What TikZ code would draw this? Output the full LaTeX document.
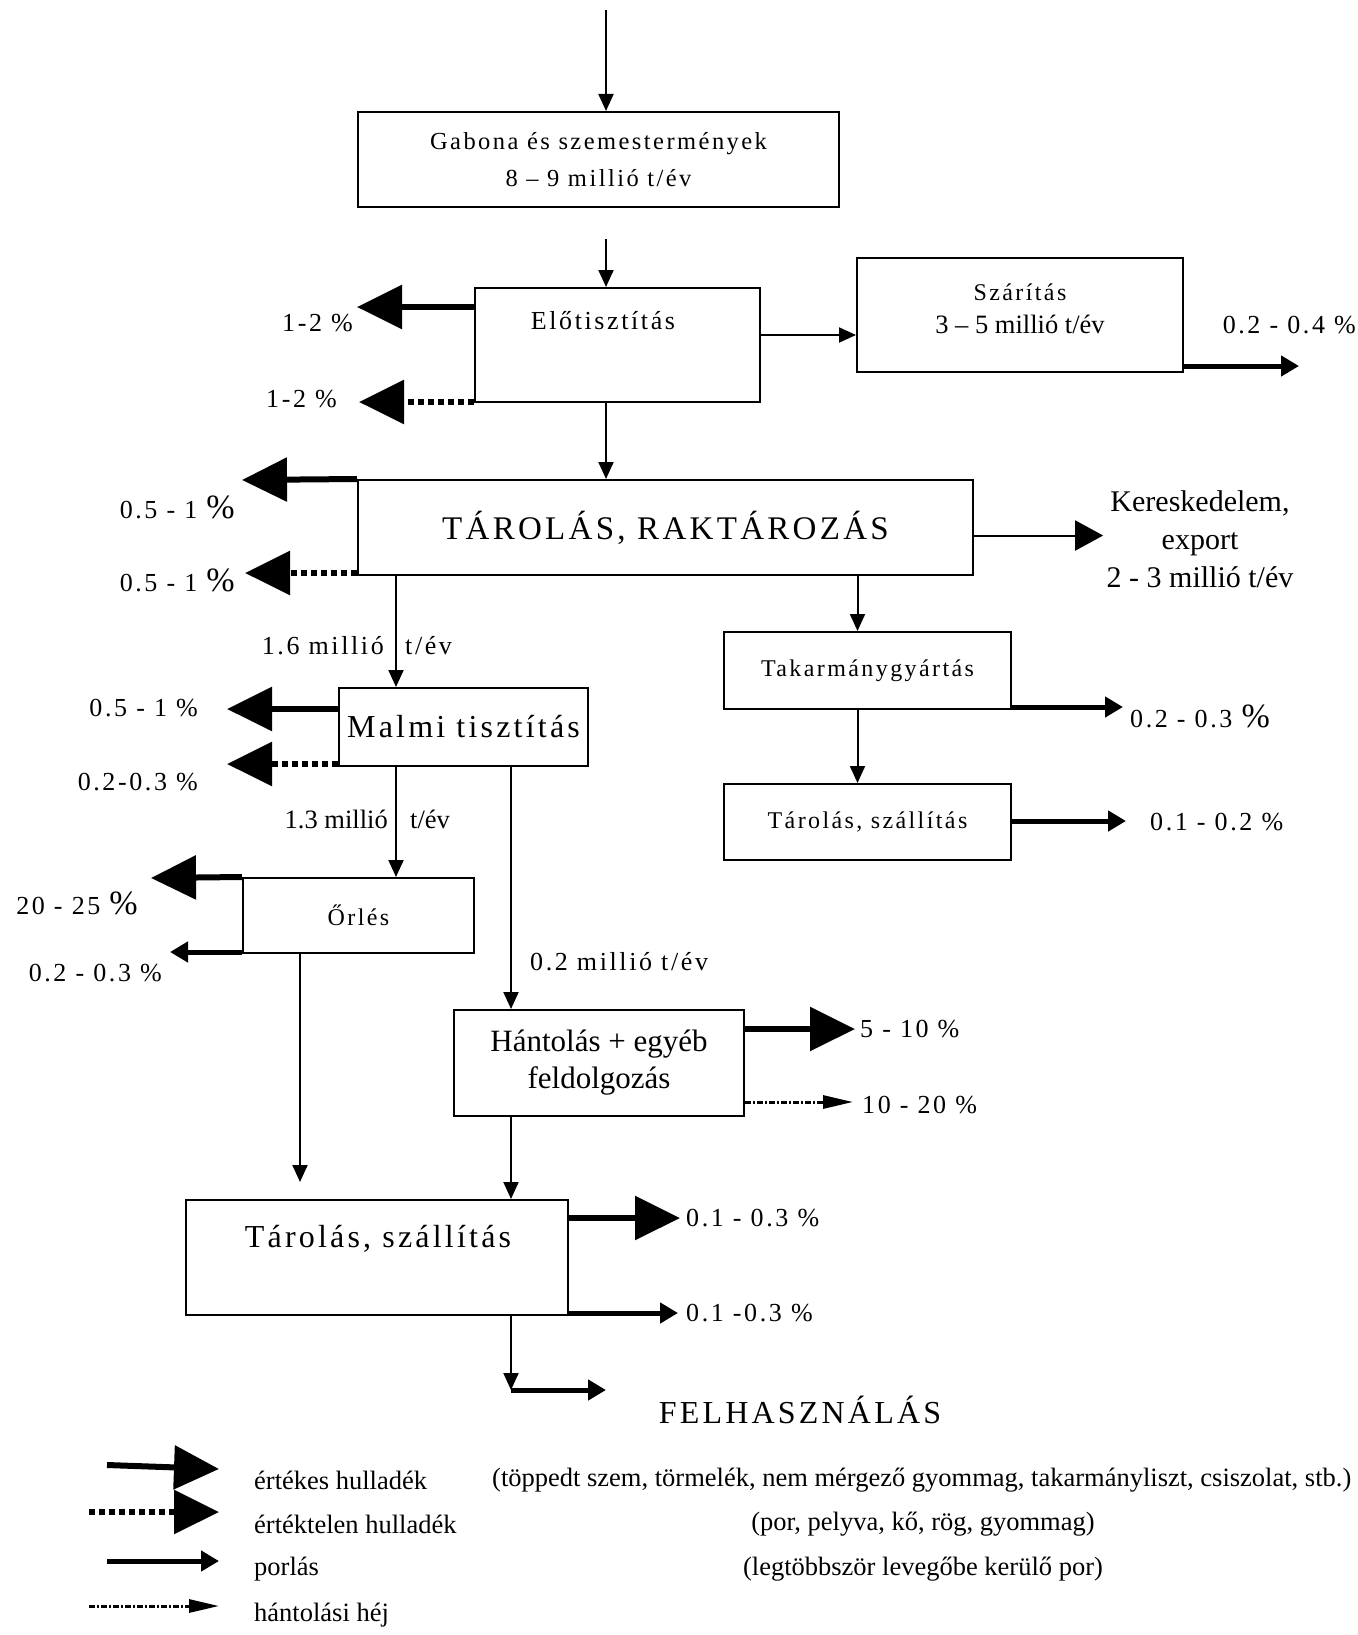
\documentclass[tikz,border=0pt]{standalone}
\usepackage{fontspec}
\setmainfont{Liberation Serif}
\newfontfamily\spc[LetterSpace=10]{Liberation Serif}
\usetikzlibrary{arrows.meta}
\newcommand\bpct{{\fontsize{34}{34}\selectfont\%}}
\tikzset{
  >=latex,
  box/.style={draw, line width=2pt, inner sep=0pt},
  flow/.style={-{Triangle[length=17pt,width=15pt]}, line width=2pt},
  trade/.style={-{Triangle[length=28pt,width=30pt]}, line width=2pt},
  valuable/.style={-{Triangle[length=45pt,width=43pt]}, line width=6pt},
  worthless/.style={valuable, dash pattern=on 6pt off 4pt},
  dust/.style={-{Triangle[length=18pt,width=20pt]}, line width=5pt},
  hull/.style={-{Triangle[length=30pt,width=13pt]}, line width=3pt, dash pattern=on 6pt off 2pt on 2pt off 2pt},
  boxtxt/.style={font=\spc\fontsize{24}{28}\selectfont, inner sep=0pt},
  pct/.style={font=\spc\fontsize{26}{30}\selectfont, inner sep=0pt},
  txt/.style={font=\fontsize{26.5}{30}\selectfont, inner sep=0pt},
  bigtxt/.style={font=\spc\fontsize{32}{38}\selectfont, inner sep=0pt}
}
\begin{document}
\begin{tikzpicture}[x=1pt,y=-1pt]
\useasboundingbox (0,0) rectangle (1357,1635);

% input and cleaning
\node[box, minimum width=481pt, minimum height=95pt, align=center, font=\spc\fontsize{24.5}{37}\selectfont] (gab) at (598.5,159.5) {Gabona és szemestermények\\8 – 9 millió t/év};
\coordinate (in) at (606,10);
\draw[flow] (in) -- (in |- gab.north);

\node[box, minimum width=285pt, minimum height=114pt] (elo) at (617.5,345) {};
\node[font=\spc\fontsize{26}{30}\selectfont, inner sep=0pt] (eloT) at (603,321) {Előtisztítás};
\draw[flow] ([yshift=-31pt]in |- gab.south) -- (in |- elo.north);

\coordinate (e1) at (357,307);
\coordinate (e2) at (359,402);
\draw[valuable] (elo.west |- e1) -- (e1);
\draw[worthless] (elo.west |- e2) -- (e2);
\node[pct, anchor=east] (e1l) at (353,323) {1-2 \%};
\node[pct, anchor=east] (e2l) at (337,399) {1-2 \%};

% drying
\node[box, minimum width=326pt, minimum height=114pt] (sza) at (1020,315) {};
\node[boxtxt] (szaT) at (1020,292) {Szárítás};
\node[txt] (szaM) at (1020,324) {3 – 5 millió t/év};
\draw[flow] ([yshift=-20pt]sza.west -| elo.east) -- ([yshift=-20pt]sza.west);
\coordinate (s1) at (1299,366);
\draw[dust] (sza.east |- s1) -- (s1);
\node[pct, anchor=east] (s1l) at (1356,325) {0.2 - 0.4 \%};

% storage
\node[box, minimum width=615pt, minimum height=95pt, font=\spc\fontsize{33}{38}\selectfont, inner sep=0pt] (tar) at (665.5,527.5) {TÁROLÁS, RAKTÁROZÁS};
\draw[flow] (in |- elo.south) -- (in |- tar.north);
\coordinate (t1) at (242,480);
\coordinate (t2) at (245,573);
\draw[valuable] (tar.north west) -- (t1);
\draw[worthless] (tar.west |- t2) -- (t2);
\node[pct, anchor=east] (t1l) at (235,507) {0.5 - 1 \bpct};
\node[pct, anchor=east] (t2l) at (235,580) {0.5 - 1 \bpct};

\node[align=center, font=\fontsize{30}{38}\selectfont] (ker) at (1200,539) {Kereskedelem,\\export\\2 - 3 millió t/év};
\draw[trade] ([yshift=-8pt]tar.east) -- ([yshift=-8pt]tar.east -| ker.west);

% feed line
\node[box, minimum width=287pt, minimum height=77pt, boxtxt] (tak) at (867.5,670.5) {Takarmánygyártás};
\draw[flow] ([xshift=-10pt]tak.north |- tar.south) -- ([xshift=-10pt]tak.north);
\coordinate (k1) at (1123,707);
\draw[dust] (tak.east |- k1) -- (k1);
\node[pct, anchor=west] (k1l) at (1130,716) {0.2 - 0.3 \bpct};

\node[box, minimum width=287pt, minimum height=76pt, boxtxt] (tsz) at (867.5,822) {Tárolás, szállítás};
\draw[flow] ([xshift=-10pt]tak.south) -- ([xshift=-10pt]tsz.north);
\coordinate (k2) at (1126,821);
\draw[dust] (tsz.east |- k2) -- (k2);
\node[pct, anchor=west] (k2l) at (1150,822) {0.1 - 0.2 \%};

% mill line
\node[box, minimum width=249pt, minimum height=78pt, bigtxt] (mal) at (463.5,727) {Malmi tisztítás};
\draw[flow] ([xshift=-67.5pt]mal.north |- tar.south) -- ([xshift=-67.5pt]mal.north);
\node[pct, anchor=east] (m16) at (384,646) {1.6 millió};
\node[pct, anchor=west] (t16) at (405,646) {t/év};
\coordinate (m1) at (227,709);
\coordinate (m2) at (227,764);
\draw[valuable] (mal.west |- m1) -- (m1);
\draw[worthless] (mal.west |- m2) -- (m2);
\node[pct, anchor=east] (m1l) at (198,708) {0.5 - 1 \%};
\node[pct, anchor=east] (m2l) at (198,782) {0.2-0.3 \%};

\node[box, minimum width=231pt, minimum height=75pt, boxtxt] (orl) at (358.5,915.5) {Őrlés};
\draw[flow] ([xshift=-67.5pt]mal.south) -- ([xshift=-67.5pt]mal.south |- orl.north);
\node[txt, anchor=east] (m13) at (388,819) {1.3 millió};
\node[txt, anchor=west] (t13) at (410,819) {t/év};
\coordinate (o1) at (151,878);
\coordinate (o2) at (170,952);
\draw[valuable] (orl.north west) -- (o1);
\draw[dust] (orl.west |- o2) -- (o2);
\node[pct, anchor=east] (o1l) at (138,903) {20 - 25 \bpct};
\node[pct, anchor=east] (o2l) at (162,973) {0.2 - 0.3 \%};

\node[box, minimum width=290pt, minimum height=106pt, align=center, font=\fontsize{31}{37}\selectfont] (han) at (599,1063) {Hántolás + egyéb\\feldolgozás};
\draw[flow] ([xshift=47.5pt]mal.south) -- ([xshift=47.5pt]mal.south |- han.north);
\node[pct, anchor=west] (m02) at (530,962) {0.2 millió t/év};
\coordinate (h1) at (855,1029);
\coordinate (h2) at (853,1102);
\draw[valuable] (han.east |- h1) -- (h1);
\draw[hull] (han.east |- h2) -- (h2);
\node[pct, anchor=west] (h1l) at (860,1029) {5 - 10 \%};
\node[pct, anchor=west] (h2l) at (862,1105) {10 - 20 \%};

% final storage
\node[box, minimum width=382pt, minimum height=115pt] (tsa) at (377,1257.5) {};
\node[bigtxt] (tsaT) at (378,1239) {Tárolás, szállítás};
\draw[flow] ([xshift=-58.5pt]orl.south) -- ([xshift=-58.5pt,yshift=17pt]orl.south |- tsa.north);
\draw[flow] ([xshift=-88pt]han.south) -- ([xshift=-88pt]han.south |- tsa.north);
\coordinate (b1) at (680,1218);
\coordinate (b2) at (678,1313);
\draw[valuable] (tsa.east |- b1) -- (b1);
\draw[dust] (tsa.east |- b2) -- (b2);
\node[pct, anchor=west] (b1l) at (686,1218) {0.1 - 0.3 \%};
\node[pct, anchor=west] (b2l) at (686,1313) {0.1 -0.3 \%};
\coordinate (ex) at (511,1390);
\coordinate (ex2) at (606,1390);
\draw[flow] (tsa.south -| ex) -- (ex);
\draw[dust] (ex) -- (ex2);
\node[bigtxt] (fel) at (800,1410) {FELHASZNÁLÁS};

% legend
\coordinate (l1a) at (107,1465); \coordinate (l1b) at (219,1469);
\coordinate (l2a) at (89,1512);  \coordinate (l2b) at (219,1512);
\coordinate (l3a) at (107,1561); \coordinate (l3b) at (219,1561);
\coordinate (l4a) at (89,1606);  \coordinate (l4b) at (219,1606);
\draw[valuable] (l1a) -- (l1b);
\draw[worthless] (l2a) -- (l2b);
\draw[dust] (l3a) -- (l3b);
\draw[hull] (l4a) -- (l4b);
\node[txt, anchor=west] (g1) at (254,1480) {értékes hulladék};
\node[txt, anchor=west] (g2) at (254,1524) {értéktelen hulladék};
\node[txt, anchor=west] (g3) at (254,1569) {porlás};
\node[txt, anchor=west] (g4) at (254,1615) {hántolási héj};
\node[txt, anchor=west] (d1) at (492,1480) {(töppedt szem, törmelék, nem mérgező gyommag, takarmányliszt, csiszolat, stb.)};
\node[txt] (d2) at (923,1524) {(por, pelyva, kő, rög, gyommag)};
\node[txt] (d3) at (923,1569) {(legtöbbször levegőbe kerülő por)};
\end{tikzpicture}
\end{document}
